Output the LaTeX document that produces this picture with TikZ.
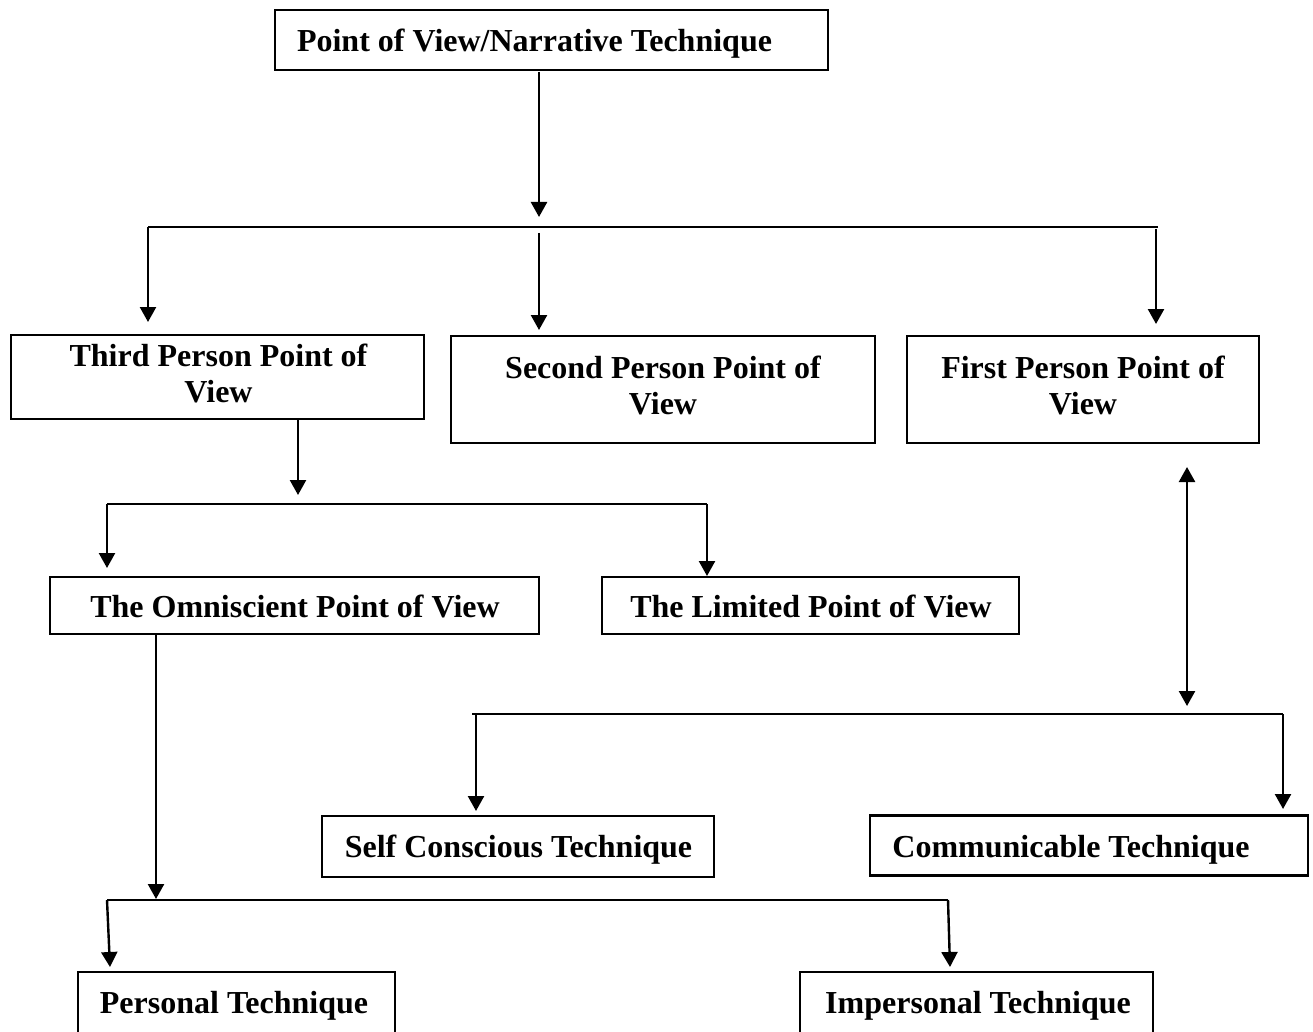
\documentclass[tikz,border=0pt]{standalone}
\usepackage{fontspec}
\setmainfont{Liberation Serif}
\usetikzlibrary{arrows.meta}
\begin{document}
\begin{tikzpicture}[x=1pt,y=-1pt,
  box/.style={draw, line width=2.4pt, inner sep=0pt},
  lbl/.style={font=\fontsize{32}{36}\selectfont\bfseries, inner sep=0pt, align=center},
  conn/.style={line width=2.4pt},
  arr/.style={conn, -{Triangle[width=16pt,length=15pt]}},
  darr/.style={conn, {Triangle[width=16pt,length=15pt]}-{Triangle[width=16pt,length=15pt]}}]
\useasboundingbox (0,0) rectangle (1313,1032);
\clip (0,0) rectangle (1313,1032);
\fill[white] (0,0) rectangle (1313,1032);

% boxes
\node[box, minimum width=553pt, minimum height=60pt] (top) at (551.5,40) {};
\node[box, minimum width=413pt, minimum height=84pt] (third) at (217.5,377) {};
\node[box, minimum width=424pt, minimum height=107pt] (second) at (663,389.5) {};
\node[box, minimum width=352pt, minimum height=107pt] (first) at (1083,389.5) {};
\node[box, minimum width=489pt, minimum height=57pt] (omni) at (294.5,605.5) {};
\node[box, minimum width=417pt, minimum height=57pt] (limited) at (810.5,605.5) {};
\node[box, minimum width=392pt, minimum height=61pt] (self) at (518,846.5) {};
\node[box, minimum width=438pt, minimum height=60pt] (comm) at (1089,845.5) {};
\node[box, minimum width=317pt, minimum height=78pt] (personal) at (236.5,1011) {};
\node[box, minimum width=353pt, minimum height=78pt] (impersonal) at (976.5,1011) {};

% labels
\node[lbl, anchor=base] (top-t) at (534.5,52) {Point of View/Narrative Technique};
\node[lbl] (third-t) at (218.5,373) {Third Person Point of\\View};
\node[lbl] (second-t) at (663,385) {Second Person Point of\\View};
\node[lbl] (first-t) at (1083,385) {First Person Point of\\View};
\node[lbl, anchor=base] (omni-t) at (295,617) {The Omniscient Point of View};
\node[lbl, anchor=base] (limited-t) at (811,617) {The Limited Point of View};
\node[lbl, anchor=base] (self-t) at (518.5,857) {Self Conscious Technique};
\node[lbl, anchor=base] (comm-t) at (1071,857) {Communicable Technique};
\node[lbl, anchor=base] (personal-t) at (234,1013) {Personal Technique};
\node[lbl, anchor=base] (impersonal-t) at (978,1013) {Impersonal Technique};

% connector points
\coordinate (a1s) at (539,72);   \coordinate (a1e) at (539,217);
\coordinate (h1L) at (148,227);  \coordinate (h1R) at (1158,227);
\coordinate (a2e) at (148,322);
\coordinate (a3s) at (539,233);  \coordinate (a3e) at (539,330);
\coordinate (a4s) at (1156,229); \coordinate (a4e) at (1156,324);
\coordinate (a5s) at (298,420);  \coordinate (a5e) at (298,495);
\coordinate (h2L) at (107,504);  \coordinate (h2R) at (707,504);
\coordinate (a6e) at (107,568);
\coordinate (a7e) at (707,576);
\coordinate (a8s) at (156,635);  \coordinate (a8e) at (156,899);
\coordinate (h3L) at (107,900);  \coordinate (h3R) at (948,900);
\coordinate (a9e) at (110,967);
\coordinate (a10e) at (950,967);
\coordinate (d1s) at (1187,467); \coordinate (d1e) at (1187,706);
\coordinate (h4L) at (472,714);  \coordinate (h4R) at (1283,714);
\coordinate (a11s) at (476,714); \coordinate (a11e) at (476,811);
\coordinate (a12e) at (1283,809);

% connectors
\draw[arr] (a1s) -- (a1e);
\draw[conn] (h1L) -- (h1R);
\draw[arr] (h1L) -- (a2e);
\draw[arr] (a3s) -- (a3e);
\draw[arr] (a4s) -- (a4e);
\draw[arr] (a5s) -- (a5e);
\draw[conn] (h2L) -- (h2R);
\draw[arr] (h2L) -- (a6e);
\draw[arr] (h2R) -- (a7e);
\draw[arr] (a8s) -- (a8e);
\draw[conn] (h3L) -- (h3R);
\draw[arr] (h3L) -- (a9e);
\draw[arr] (h3R) -- (a10e);
\draw[darr] (d1s) -- (d1e);
\draw[conn] (h4L) -- (h4R);
\draw[arr] (a11s) -- (a11e);
\draw[arr] (h4R) -- (a12e);
\end{tikzpicture}
\end{document}
